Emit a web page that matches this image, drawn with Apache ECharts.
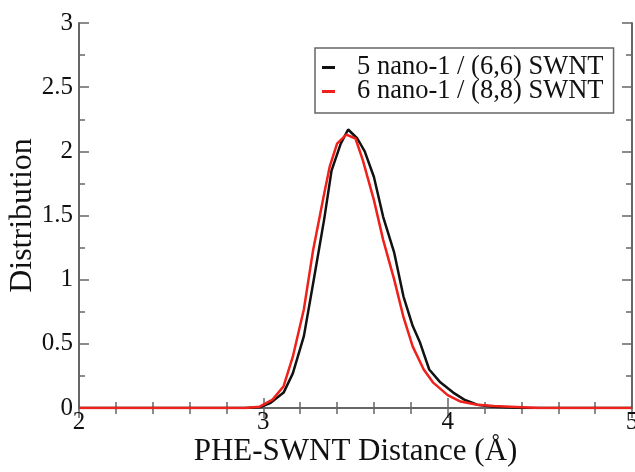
<!DOCTYPE html>
<html>
<head>
<meta charset="utf-8">
<script src="https://cdn.jsdelivr.net/npm/echarts@6/dist/echarts.min.js"></script>
<style>html,body{margin:0;padding:0;background:#fff}#c{width:635px;height:472px}</style>
</head>
<body>
<div id="c"></div>
<script>
const seriesNames = ['5 nano-1 / (6,6) SWNT', '6 nano-1 / (8,8) SWNT'];
const xTicks = ['2', '3', '4', '5'];
const yTicks = ['0', '0.5', '1', '1.5', '2', '2.5', '3'];
const blackX = [2.0, 2.9, 2.98, 3.04, 3.11, 3.16, 3.22, 3.27, 3.33, 3.37, 3.42, 3.46, 3.51, 3.55, 3.60, 3.65, 3.71, 3.76, 3.81, 3.85, 3.90, 3.96, 4.03, 4.09, 4.16, 4.25, 4.4, 5.0];
const blackY = [0, 0, 0.005, 0.04, 0.12, 0.27, 0.56, 0.97, 1.47, 1.85, 2.06, 2.17, 2.10, 2.00, 1.80, 1.49, 1.21, 0.87, 0.64, 0.51, 0.30, 0.20, 0.12, 0.065, 0.026, 0.01, 0, 0];
const redX = [2.0, 2.9, 2.98, 3.05, 3.11, 3.16, 3.22, 3.27, 3.33, 3.36, 3.40, 3.45, 3.50, 3.54, 3.60, 3.65, 3.71, 3.76, 3.81, 3.87, 3.92, 4.00, 4.07, 4.16, 4.25, 4.34, 4.5, 5.0];
const redY = [0, 0, 0.01, 0.065, 0.17, 0.40, 0.77, 1.23, 1.67, 1.88, 2.06, 2.13, 2.10, 1.93, 1.62, 1.31, 1.00, 0.71, 0.48, 0.30, 0.20, 0.10, 0.05, 0.026, 0.015, 0.01, 0, 0];

const FONT = 'Liberation Serif';
const axisCol = '#666';
const chart = echarts.init(document.getElementById('c'));
const zip = (xs, ys) => xs.map((x, i) => [x, ys[i]]);
const common = {
  axisLine: {show: true, lineStyle: {color: axisCol, width: 2}},
  axisTick: {show: true, inside: true, length: 10, lineStyle: {color: axisCol, width: 1.5}},
  minorTick: {show: true, splitNumber: 5, length: 6, lineStyle: {color: axisCol, width: 1.5}},
  splitLine: {show: false}
};
chart.setOption({
  animation: false,
  backgroundColor: '#fff',
  grid: {left: 79, right: 3, top: 23, bottom: 64, containLabel: false, outerBoundsMode: 'none'},
  legend: {
    orient: 'vertical', left: 315, top: 48,
    itemWidth: 13, itemHeight: 3, itemGap: -3,
    icon: 'rect',
    padding: [6, 10, 8, 7],
    borderColor: '#666', borderWidth: 1.5,
    textStyle: {fontFamily: FONT, fontSize: 26.5, lineHeight: 24, color: '#111', padding: [0, 0, 0, 17]},
    data: seriesNames
  },
  xAxis: [
    Object.assign({}, common, {
      type: 'value', min: 2, max: 5, interval: 1, position: 'bottom',
      name: 'PHE-SWNT Distance (Å)', nameLocation: 'middle', nameGap: 28, nameMoveOverlap: false,
      nameTextStyle: {fontFamily: FONT, fontSize: 31, color: '#111'},
      axisLabel: {fontFamily: FONT, fontSize: 25, color: '#111', margin: 2,
        formatter: v => xTicks[Math.round(v - 2)]}
    }),
    Object.assign({}, common, {
      type: 'value', min: 2, max: 5, interval: 1, position: 'top',
      axisLabel: {show: false}
    })
  ],
  yAxis: [
    Object.assign({}, common, {
      type: 'value', min: 0, max: 3, interval: 0.5, position: 'left',
      minorTick: Object.assign({}, common.minorTick, {splitNumber: 2}),
      name: 'Distribution', nameLocation: 'middle', nameGap: 40, nameMoveOverlap: false,
      nameTextStyle: {fontFamily: FONT, fontSize: 32, color: '#111'},
      axisLabel: {fontFamily: FONT, fontSize: 25, color: '#111', margin: 6,
        formatter: v => yTicks[Math.round(v * 2)]}
    }),
    Object.assign({}, common, {
      type: 'value', min: 0, max: 3, interval: 0.5, position: 'right',
      minorTick: Object.assign({}, common.minorTick, {splitNumber: 2}),
      axisLabel: {show: false}
    })
  ],
  series: [
    {name: seriesNames[0], type: 'line', data: zip(blackX, blackY), showSymbol: false, symbol: 'none',
     lineStyle: {color: '#111', width: 2.5}, itemStyle: {color: '#111'}, z: 2},
    {name: seriesNames[1], type: 'line', data: zip(redX, redY), showSymbol: false, symbol: 'none',
     lineStyle: {color: '#f0201a', width: 2.5}, itemStyle: {color: '#f0201a'}, z: 3}
  ]
});
</script>
</body>
</html>
